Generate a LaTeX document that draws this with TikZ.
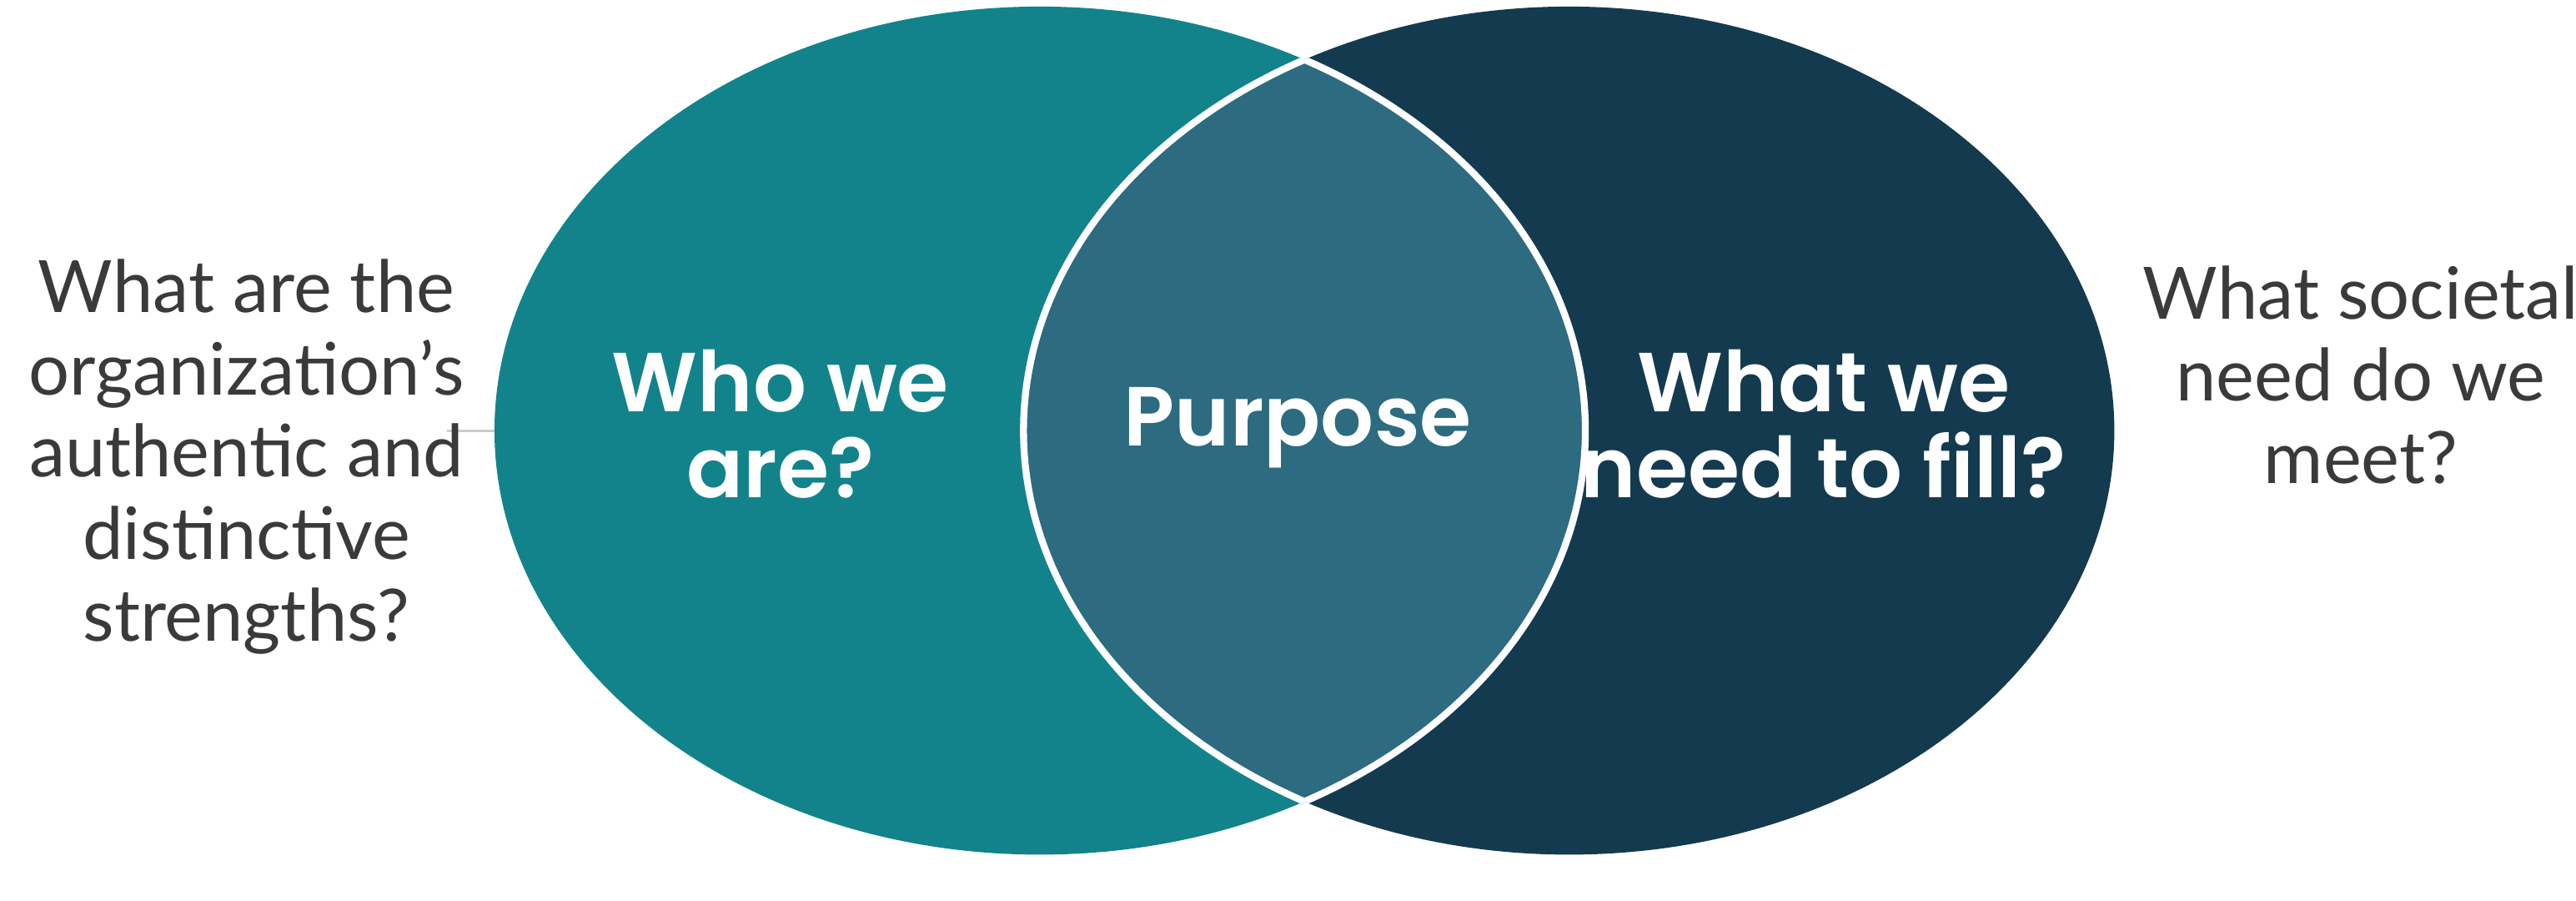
\documentclass[tikz,border=0pt]{standalone}
\usepackage{fontspec}
\setmainfont{Lato}
\newfontfamily\boldfont{Poppins SemiBold}
\definecolor{tealA}{HTML}{12838B}
\definecolor{navyB}{HTML}{143A4F}
\definecolor{lensC}{HTML}{2C6B80}
\definecolor{grayT}{HTML}{3A3A3A}
\begin{document}
\begin{tikzpicture}[x=0.01cm,y=-0.01cm,
  qtext/.style={text=grayT,font=\fontsize{12.5}{14.2}\selectfont,align=center},
  btext/.style={text=white,font=\boldfont\fontsize{14.5}{15}\selectfont,align=center}]
\useasboundingbox (0,0) rectangle (1568,548);
\fill[tealA] (633,262) ellipse [x radius=332, y radius=258];
\fill[navyB] (955,262) ellipse [x radius=332, y radius=258];
\begin{scope}
\clip (633,262) ellipse [x radius=332, y radius=258];
\fill[lensC] (955,262) ellipse [x radius=332, y radius=258];
\draw[white,line width=1.2pt] (955,262) ellipse [x radius=332, y radius=258];
\end{scope}
\begin{scope}
\clip (955,262) ellipse [x radius=332, y radius=258];
\draw[white,line width=1.2pt] (633,262) ellipse [x radius=332, y radius=258];
\end{scope}
\coordinate (la) at (272,262);
\coordinate (lb) at (301,262);
\draw[gray!40,line width=0.4pt] (la) -- (lb);
\node[qtext] (q1) at (150,278) {What are the\\organization’s\\authentic and\\distinctive\\strengths?};
\node[qtext] (q2) at (1437,228) {What societal\\need do we\\meet?};
\node[btext] (who) at (475,258) {Who we\\are?};
\node[btext] (pur) at (790,260) {Purpose};
\node[btext] (what) at (1110,258) {What we\\need to fill?};
\end{tikzpicture}
\end{document}
